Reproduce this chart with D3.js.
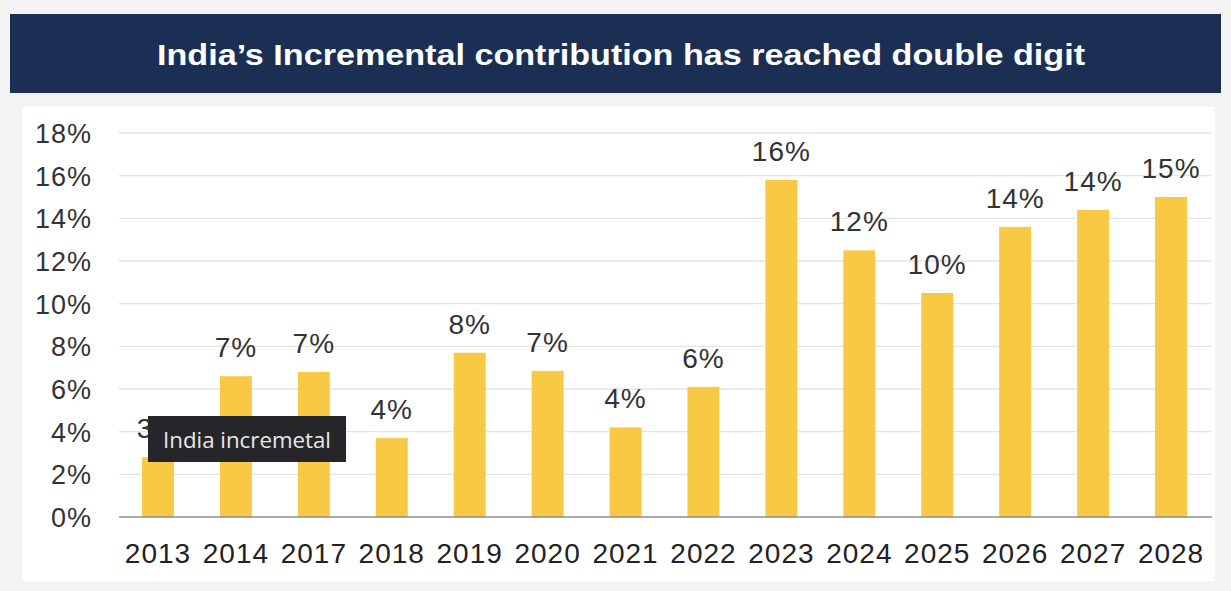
<!DOCTYPE html>
<html>
<head>
<meta charset="utf-8">
<script src="https://cdnjs.cloudflare.com/ajax/libs/d3/7.8.5/d3.min.js"></script>
<style>
  body { margin: 0; background: #f3f3f3; }
  svg { display: block; }
</style>
</head>
<body>
<svg id="chart" width="1231" height="591"></svg>
<script>
const years = ['2013', '2014', '2017', '2018', '2019', '2020', '2021', '2022', '2023', '2024', '2025', '2026', '2027', '2028'];
const share = [2.8, 6.6, 6.8, 3.7, 7.7, 6.85, 4.2, 6.1, 15.8, 12.5, 10.5, 13.6, 14.4, 15.0];
const labels = ['3%', '7%', '7%', '4%', '8%', '7%', '4%', '6%', '16%', '12%', '10%', '14%', '14%', '15%'];
const yTicks = [0, 2, 4, 6, 8, 10, 12, 14, 16, 18];

const svg = d3.select('#chart');
const W = 1231, H = 591;

// panel + title bar
svg.append('rect').attr('x', 0).attr('y', 0).attr('width', W).attr('height', H).attr('fill', '#f3f3f3');
svg.append('rect').attr('x', 22).attr('y', 107).attr('width', 1193).attr('height', 474).attr('fill', '#fff');
svg.append('rect').attr('x', 10).attr('y', 14).attr('width', 1211).attr('height', 79).attr('fill', '#1b2f55');
svg.append('text')
    .attr('x', 621).attr('y', 65)
    .attr('text-anchor', 'middle')
    .attr('fill', '#fff')
    .attr('font-family', 'Liberation Sans, Arial, sans-serif')
    .attr('font-weight', 'bold')
    .attr('font-size', 30)
    .attr('textLength', 928)
    .attr('lengthAdjust', 'spacingAndGlyphs')
    .text('India\u2019s Incremental contribution has reached double digit');

const x = d3.scaleBand().domain(years).range([119, 1210]).paddingInner(0.59).paddingOuter(0.295);
const y = d3.scaleLinear().domain([0, 18]).range([517, 133]);

const g = svg.append('g').attr('font-family', 'Liberation Sans, Arial, sans-serif');

// gridlines
g.selectAll('.grid').data(yTicks.slice(1)).join('line')
    .attr('x1', 119).attr('x2', 1212)
    .attr('y1', d => y(d)).attr('y2', d => y(d))
    .attr('stroke', '#e4e4e4').attr('stroke-width', 1.3);

// y labels
g.selectAll('.ylab').data(yTicks).join('text')
    .attr('x', 92).attr('y', d => y(d) + 10)
    .attr('text-anchor', 'end')
    .attr('font-size', 27).attr('letter-spacing', 1).attr('fill', '#333')
    .text(d => d + '%');

// bars
g.selectAll('.bar').data(years).join('rect')
    .attr('x', d => x(d))
    .attr('width', x.bandwidth())
    .attr('y', (d, i) => y(share[i]))
    .attr('height', (d, i) => y(0) - y(share[i]))
    .attr('fill', '#f7c944');

// axis line
g.append('line').attr('x1', 119).attr('x2', 1212).attr('y1', y(0)).attr('y2', y(0))
    .attr('stroke', '#8c8c8c').attr('stroke-width', 1.5);

// x labels
g.selectAll('.xlab').data(years).join('text')
    .attr('x', d => x(d) + x.bandwidth() / 2).attr('y', 563)
    .attr('text-anchor', 'middle')
    .attr('font-size', 28).attr('letter-spacing', 1).attr('fill', '#222')
    .text(d => d);

// value labels
g.selectAll('.vlab').data(years).join('text')
    .attr('x', d => x(d) + x.bandwidth() / 2)
    .attr('y', (d, i) => y(share[i]) - 19)
    .attr('text-anchor', 'middle')
    .attr('font-size', 28).attr('letter-spacing', 1).attr('fill', '#333')
    .text((d, i) => labels[i]);

// hover tooltip seen in the screenshot
const tip = svg.append('g').attr('transform', 'translate(148,416)');
tip.append('rect').attr('width', 198).attr('height', 46).attr('fill', '#25252a');
tip.append('text').attr('x', 15).attr('y', 32)
    .attr('font-family', 'Open Sans, Noto Sans, sans-serif')
    .attr('font-size', 22).attr('fill', '#e8e8e8')
    .attr('textLength', 168).attr('lengthAdjust', 'spacingAndGlyphs')
    .text('India incremetal');
</script>
</body>
</html>
